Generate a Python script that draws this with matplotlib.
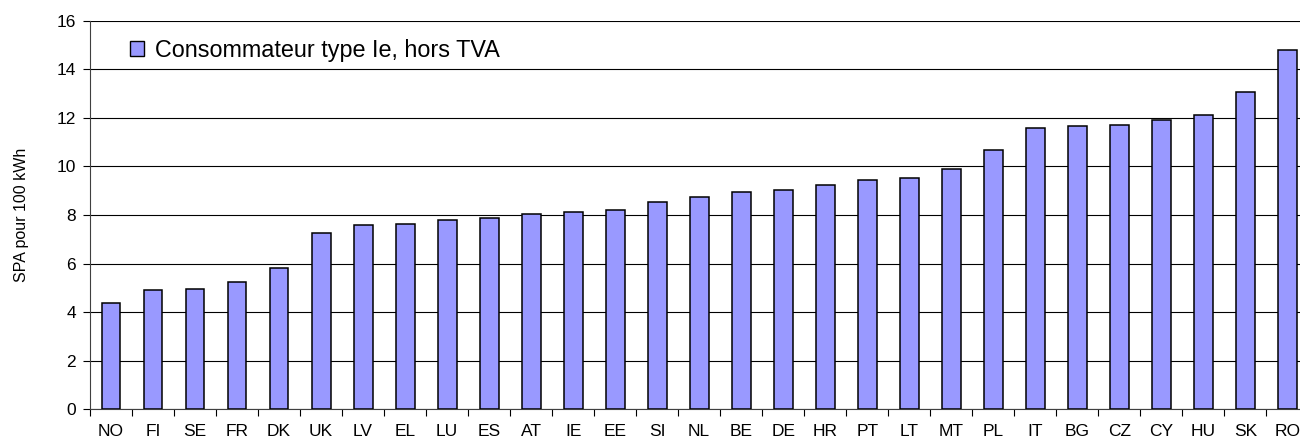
import matplotlib
matplotlib.use("Agg")
import matplotlib.pyplot as plt
from matplotlib.ticker import MultipleLocator, FixedLocator, NullFormatter
from matplotlib.patches import Patch

plt.rcParams['font.family'] = ['Liberation Sans', 'DejaVu Sans']

countries = ["NO", "FI", "SE", "FR", "DK", "UK", "LV", "EL", "LU", "ES", "AT", "IE", "EE", "SI",
             "NL", "BE", "DE", "HR", "PT", "LT", "MT", "PL", "IT", "BG", "CZ", "CY", "HU", "SK", "RO"]
values = [4.38, 4.90, 4.94, 5.25, 5.83, 7.27, 7.57, 7.63, 7.79, 7.89, 8.04, 8.11, 8.20, 8.52,
          8.75, 8.96, 9.03, 9.23, 9.44, 9.53, 9.89, 10.67, 11.60, 11.66, 11.71, 11.91, 12.11, 13.05, 14.80]
series_label = "Consommateur type Ie, hors TVA"
y_label = "SPA pour 100 kWh"

W, H = 1300, 438
fig = plt.figure(figsize=(W / 100, H / 100), dpi=100)
left, right = 90.0, 1308.3
bottom, top = 409.3, 20.7
ax = fig.add_axes([left / W, (H - bottom) / H, (right - left) / W, (bottom - top) / H])

x = range(len(countries))
ax.bar(x, values, width=0.45, color="#9999FF", edgecolor="black", linewidth=1.1, zorder=3)

ax.set_xlim(-0.5, len(countries) - 0.5)
ax.set_ylim(0, 16)
ax.yaxis.set_major_locator(MultipleLocator(2))
ax.grid(axis="y", color="black", linewidth=0.8, zorder=0)

ax.set_xticks(list(x))
ax.set_xticklabels(countries, fontsize=12.5)
ax.tick_params(axis="x", which="major", length=0, pad=10.5)
ax.xaxis.set_minor_locator(FixedLocator([i - 0.5 for i in range(len(countries) + 1)]))
ax.xaxis.set_minor_formatter(NullFormatter())
ax.tick_params(axis="x", which="minor", length=5, width=0.8, direction="out")
ax.tick_params(axis="y", length=5, width=0.8, labelsize=12.5, pad=5)

for s in ["top", "right"]:
    ax.spines[s].set_visible(False)
ax.spines["left"].set_color("#404040")
ax.spines["bottom"].set_color("#404040")

ax.set_ylabel(y_label, fontsize=11.5, labelpad=20)

handle = Patch(facecolor="#9999FF", edgecolor="black", linewidth=1.0)
ax.legend([handle], [series_label], loc="upper left", bbox_to_anchor=(0.016, 1.007),
          frameon=False, fontsize=16.8, handlelength=0.6, handleheight=0.6, handletextpad=0.45)

fig.savefig("out.png", dpi=100)
